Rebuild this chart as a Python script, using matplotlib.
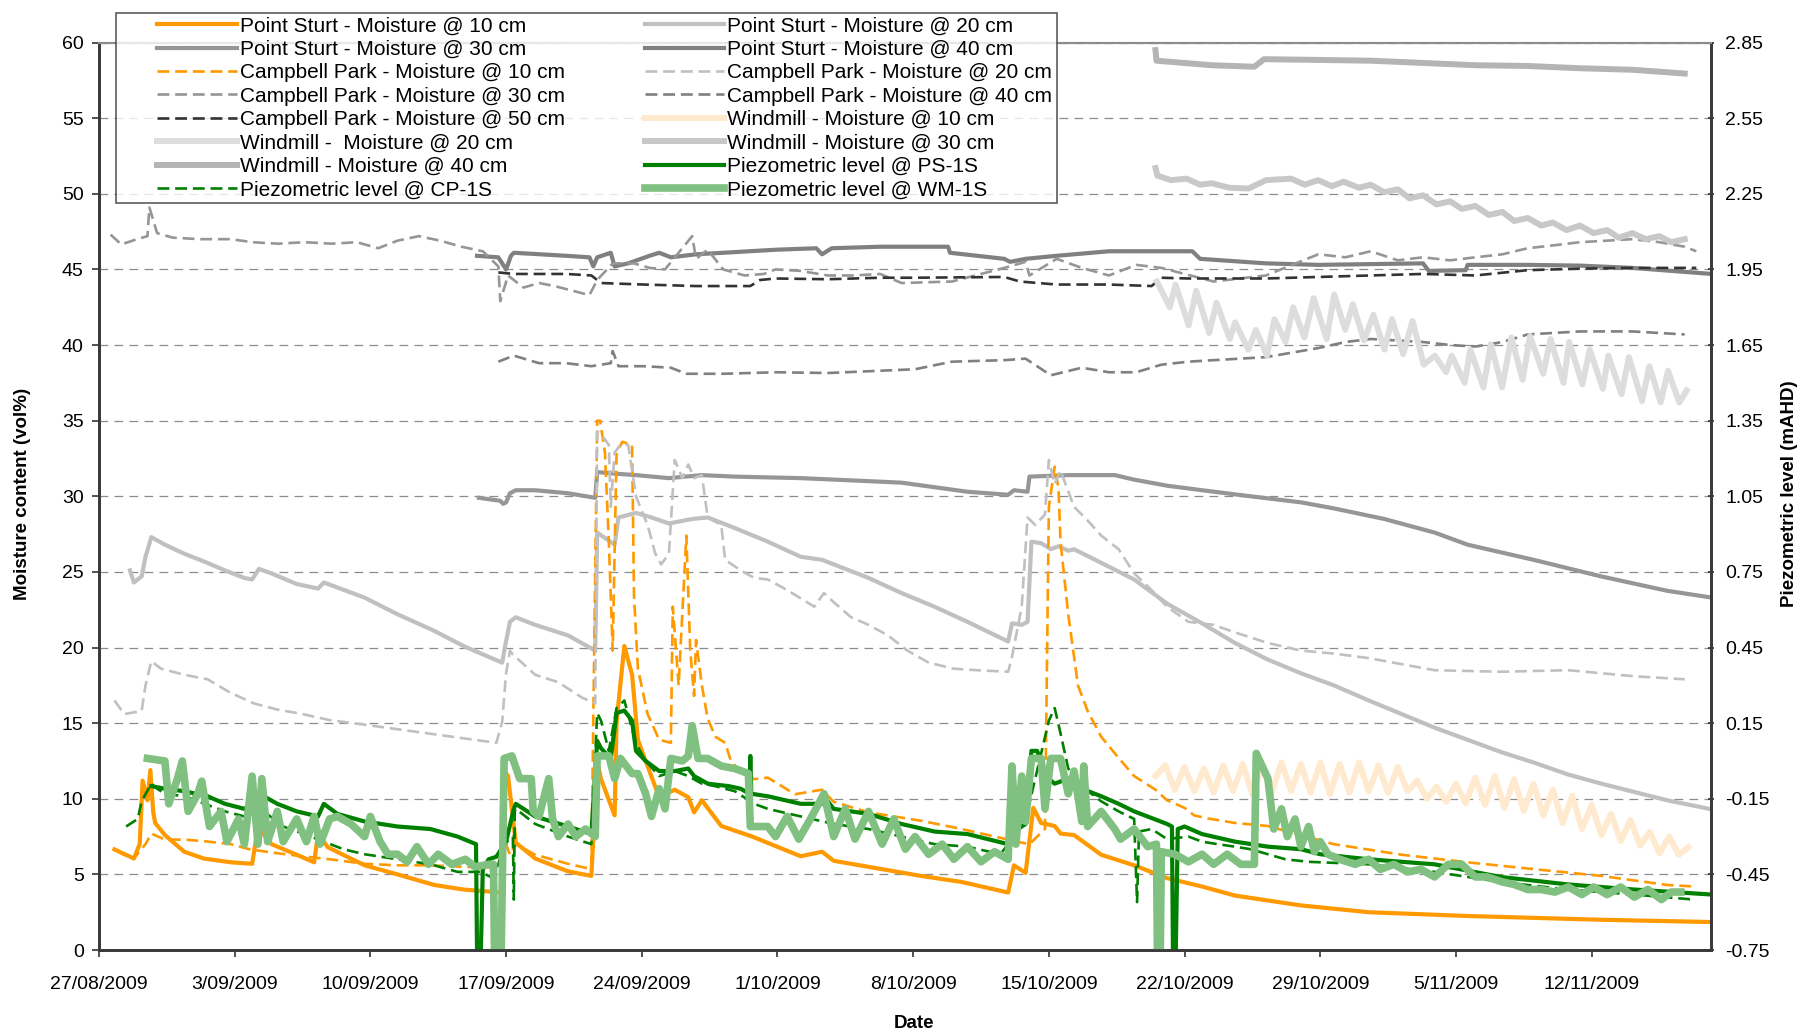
import numpy as np
import matplotlib
matplotlib.use("Agg")
import matplotlib.pyplot as plt
from matplotlib.lines import Line2D
from matplotlib.legend_handler import HandlerLine2D

plt.rcParams['font.family'] = ['Liberation Sans', 'DejaVu Sans']

# x values are days after 27/08/2009; moisture in vol%, piezometric level in mAHD
tick_days = [0, 7, 14, 21, 28, 35, 42, 49, 56, 63, 70, 77]
tick_labels = ['27/08/2009', '3/09/2009', '10/09/2009', '17/09/2009', '24/09/2009',
               '1/10/2009', '8/10/2009', '15/10/2009', '22/10/2009', '29/10/2009',
               '5/11/2009', '12/11/2009']

ps10 = [(0.8, 6.65), (1.8, 6.05), (2.1, 7.0), (2.25, 11.2), (2.5, 9.9), (2.65, 11.9), (2.8, 9.1),
        (2.9, 8.4), (3.4, 7.6), (4.4, 6.5), (5.4, 6.05), (6.8, 5.8), (7.9, 5.7), (8.2, 8.1),
        (8.9, 7.0), (10.2, 6.3), (11.1, 5.8), (11.3, 7.7), (11.8, 6.8), (13.7, 5.6), (15.4, 5.0),
        (17.3, 4.3), (18.8, 4.0), (20.8, 3.8), (20.95, 11.8), (21.1, 11.5), (21.5, 7.1),
        (22.5, 6.05), (24.2, 5.2), (25.4, 4.9), (25.7, 12.5), (25.9, 11.3), (26.6, 8.9),
        (26.7, 15.1), (27.1, 20.1), (27.5, 18.2), (27.8, 13.9), (28.2, 12.5), (28.9, 10.1),
        (29.7, 10.6), (30.4, 10.1), (30.7, 9.1), (31.1, 9.9), (32.1, 8.2), (33.7, 7.5),
        (36.2, 6.2), (37.3, 6.5), (37.9, 5.9), (39.7, 5.5), (42.4, 4.9), (44.5, 4.5),
        (46.9, 3.8), (47.2, 5.6), (47.8, 5.1), (48.2, 9.4), (48.6, 8.4), (49.3, 8.2),
        (49.6, 7.7), (50.3, 7.6), (51.7, 6.3), (53.4, 5.6), (55.1, 4.75), (56.9, 4.2),
        (58.6, 3.6), (62.0, 2.95), (65.5, 2.5), (70.6, 2.25), (77.5, 2.0), (83.2, 1.85)]

ps20 = [(1.6, 25.1), (1.8, 24.3), (2.2, 24.7), (2.4, 26.0), (2.7, 27.3), (3.4, 26.8), (4.4, 26.2),
        (5.4, 25.7), (6.5, 25.1), (7.5, 24.6), (7.9, 24.5), (8.25, 25.2), (8.9, 24.9),
        (10.2, 24.2), (11.3, 23.9), (11.6, 24.3), (13.7, 23.3), (15.4, 22.2), (17.3, 21.1),
        (18.8, 20.1), (20.8, 19.0), (20.95, 20.1), (21.2, 21.7), (21.5, 22.0), (22.5, 21.5),
        (24.2, 20.8), (25.6, 19.8), (25.7, 27.6), (26.6, 26.8), (26.8, 28.6), (27.7, 28.9),
        (28.5, 28.6), (29.4, 28.2), (30.6, 28.5), (31.4, 28.6), (32.8, 27.9), (34.5, 27.0),
        (36.2, 26.0), (37.3, 25.8), (39.7, 24.6), (41.4, 23.6), (43.1, 22.7), (44.8, 21.7),
        (46.9, 20.4), (47.1, 21.6), (47.6, 21.5), (47.9, 21.7), (48.1, 27.0), (48.6, 26.9),
        (49.1, 26.5), (49.5, 26.7), (50.0, 26.4), (50.3, 26.5), (51.7, 25.6), (53.4, 24.5),
        (55.1, 22.9), (56.9, 21.6), (58.6, 20.3), (60.3, 19.2), (62.0, 18.3), (63.7, 17.5),
        (65.5, 16.5), (67.2, 15.6), (68.9, 14.7), (70.6, 13.9), (72.3, 13.1), (74.0, 12.4),
        (75.8, 11.6), (77.5, 11.0), (79.2, 10.45), (80.9, 9.9), (83.2, 9.3)]

ps30 = [(19.6, 29.9), (20.7, 29.7), (20.85, 29.5), (21.0, 29.6), (21.2, 30.2), (21.5, 30.4),
        (22.5, 30.4), (24.2, 30.2), (25.6, 29.9), (25.7, 31.6), (26.6, 31.5), (27.7, 31.4),
        (29.4, 31.2), (31.1, 31.4), (32.8, 31.3), (36.2, 31.2), (39.7, 31.0), (41.4, 30.9),
        (44.8, 30.3), (46.9, 30.1), (47.2, 30.4), (47.9, 30.3), (48.0, 31.3), (50.0, 31.4),
        (52.4, 31.4), (53.4, 31.1), (55.1, 30.7), (56.9, 30.4), (59.4, 30.0), (62.0, 29.6),
        (63.7, 29.2), (66.3, 28.5), (68.9, 27.6), (70.6, 26.8), (74.0, 25.8), (77.5, 24.7),
        (80.9, 23.75), (83.2, 23.3)]

ps40 = [(19.5, 45.9), (20.6, 45.8), (21.0, 45.0), (21.25, 45.9), (21.4, 46.1), (24.1, 45.9),
        (25.3, 45.8), (25.5, 45.2), (25.7, 45.8), (26.4, 46.1), (26.6, 45.2), (27.3, 45.4),
        (28.4, 45.9), (28.9, 46.1), (29.5, 45.8), (30.8, 46.0), (32.2, 46.1), (34.9, 46.3),
        (37.0, 46.4), (37.3, 46.0), (37.8, 46.4), (40.3, 46.5), (43.8, 46.5), (43.9, 46.1),
        (46.7, 45.7), (47.0, 45.5), (47.8, 45.7), (49.4, 45.9), (52.1, 46.2), (56.4, 46.2),
        (56.8, 45.7), (60.2, 45.4), (62.9, 45.3), (68.3, 45.4), (68.6, 44.9), (70.5, 44.95),
        (70.6, 45.3), (73.7, 45.3), (76.4, 45.25), (79.1, 45.1), (83.2, 44.7)]

cp10 = [(0.8, 6.65), (1.3, 6.3), (1.8, 6.05), (2.4, 7.0), (2.7, 7.7), (3.4, 7.3), (4.4, 7.3),
        (5.4, 7.2), (6.8, 7.0), (7.8, 6.65), (9.2, 6.4), (10.5, 6.2), (11.9, 6.0), (13.7, 5.7),
        (15.4, 5.6), (17.1, 5.6), (18.8, 5.5), (20.5, 5.45), (21.0, 7.0), (21.2, 6.3),
        (21.5, 7.0), (22.5, 6.3), (24.2, 5.7), (25.4, 5.35), (25.7, 35.0), (25.85, 35.0),
        (26.1, 32.9), (26.3, 27.0), (26.5, 19.8), (26.7, 32.9), (27.0, 33.6), (27.5, 33.4),
        (27.6, 23.4), (27.8, 18.6), (28.3, 15.6), (28.9, 13.9), (29.5, 13.7), (29.6, 22.7),
        (29.9, 17.5), (30.3, 27.4), (30.5, 19.8), (30.7, 16.8), (30.8, 20.5), (31.1, 17.5),
        (31.4, 15.3), (31.8, 14.1), (32.3, 13.7), (32.6, 12.5), (33.1, 11.8), (33.8, 11.3),
        (34.5, 11.4), (35.9, 10.3), (37.3, 10.6), (37.9, 9.8), (39.7, 9.1), (42.4, 8.55),
        (44.5, 8.0), (46.9, 7.3), (47.2, 7.2), (48.0, 7.0), (48.8, 8.0), (49.0, 29.3),
        (49.3, 31.95), (49.5, 30.5), (49.6, 27.0), (50.0, 22.2), (50.5, 17.5), (51.0, 15.8),
        (51.7, 14.1), (52.6, 12.7), (53.4, 11.5), (54.5, 10.6), (55.1, 9.9), (56.0, 9.4),
        (56.5, 8.9), (57.2, 8.7), (57.9, 8.55), (58.6, 8.4), (60.3, 8.2), (62.0, 7.6),
        (63.7, 7.0), (67.2, 6.3), (70.6, 5.8), (74.0, 5.35), (77.5, 4.9), (80.9, 4.3),
        (82.3, 4.2)]

cp20 = [(0.8, 16.5), (1.3, 15.6), (2.2, 15.8), (2.4, 17.5), (2.7, 19.1), (3.2, 18.6), (4.4, 18.2),
        (5.6, 17.9), (6.8, 17.0), (8.0, 16.3), (9.2, 15.9), (10.5, 15.6), (11.9, 15.2),
        (13.7, 14.9), (15.4, 14.6), (17.1, 14.3), (18.8, 14.0), (20.5, 13.7), (20.8, 15.1),
        (21.0, 18.3), (21.2, 19.8), (21.3, 19.6), (22.5, 18.2), (23.7, 17.7), (24.9, 16.7),
        (25.6, 16.3), (25.7, 34.3), (25.9, 34.1), (26.3, 33.4), (26.4, 29.3), (26.6, 32.9),
        (26.9, 33.4), (27.3, 33.4), (27.7, 30.0), (28.3, 28.1), (28.7, 26.2), (29.0, 25.5),
        (29.4, 26.2), (29.7, 32.4), (30.1, 31.2), (30.4, 32.1), (30.7, 31.2), (31.1, 31.4),
        (31.4, 28.6), (32.1, 28.1), (32.3, 25.8), (33.1, 25.1), (33.8, 24.6), (34.5, 24.5),
        (35.5, 23.8), (36.9, 22.7), (37.4, 23.6), (37.9, 23.0), (38.8, 22.0), (39.7, 21.5),
        (40.7, 20.8), (41.7, 19.8), (42.8, 19.0), (44.1, 18.6), (45.3, 18.5), (46.9, 18.4),
        (47.1, 19.4), (47.6, 22.7), (47.9, 28.6), (48.3, 28.1), (48.8, 28.8), (49.0, 32.4),
        (49.3, 30.8), (49.6, 31.7), (50.3, 29.3), (51.0, 28.4), (51.7, 27.4), (52.6, 26.5),
        (53.4, 24.9), (54.3, 23.8), (55.1, 22.7), (56.2, 21.7), (57.5, 21.5), (58.6, 21.0),
        (60.3, 20.3), (62.0, 19.8), (63.7, 19.6), (65.5, 19.3), (68.9, 18.5), (72.3, 18.4),
        (75.8, 18.5), (79.2, 18.1), (81.8, 17.9)]

cp30 = [(0.6, 47.3), (1.15, 46.65), (1.96, 47.0), (2.5, 47.2), (2.6, 49.1), (3.0, 47.4),
        (3.8, 47.1), (5.2, 47.0), (6.8, 47.0), (7.9, 46.8), (9.25, 46.7), (10.6, 46.8),
        (12.0, 46.7), (13.3, 46.8), (14.4, 46.4), (15.4, 46.9), (16.5, 47.2), (17.6, 46.9),
        (18.7, 46.5), (19.8, 46.2), (20.6, 45.2), (20.7, 42.9), (21.1, 44.6), (21.9, 43.8),
        (22.7, 44.1), (23.5, 43.9), (24.1, 43.7), (25.3, 43.3), (25.7, 44.3), (26.5, 45.4),
        (27.6, 45.4), (28.4, 45.1), (29.2, 45.0), (30.6, 47.2), (30.8, 45.7), (31.4, 46.3),
        (32.2, 45.0), (33.3, 44.6), (34.3, 44.7), (34.9, 45.0), (36.2, 44.9), (37.6, 44.6),
        (38.9, 44.6), (40.3, 44.7), (41.4, 44.1), (44.0, 44.2), (46.7, 45.1), (47.8, 45.5),
        (48.0, 44.6), (49.4, 45.7), (50.7, 45.1), (52.1, 44.6), (53.5, 45.3), (54.8, 45.1),
        (57.5, 44.2), (60.2, 44.6), (62.9, 46.0), (64.3, 45.8), (65.6, 46.2), (67.0, 45.6),
        (68.3, 45.8), (69.7, 45.6), (71.0, 45.8), (72.4, 46.0), (73.7, 46.4), (75.1, 46.6),
        (76.4, 46.8), (77.8, 46.9), (79.1, 47.0), (80.5, 46.8), (81.8, 46.5), (82.4, 46.2)]

cp40 = [(20.6, 38.9), (21.4, 39.3), (22.7, 38.8), (24.1, 38.8), (25.4, 38.6), (26.4, 38.8),
        (26.5, 39.6), (26.8, 38.6), (28.1, 38.6), (29.5, 38.5), (30.3, 38.1), (32.2, 38.1),
        (34.9, 38.2), (37.6, 38.15), (40.3, 38.3), (42.1, 38.4), (44.0, 38.9), (46.7, 39.0),
        (47.8, 39.1), (49.1, 38.0), (50.7, 38.5), (52.1, 38.2), (53.5, 38.2), (54.8, 38.7),
        (56.2, 38.9), (57.5, 39.0), (60.2, 39.2), (62.9, 39.8), (64.3, 40.2), (65.6, 40.4),
        (68.3, 40.2), (69.7, 40.0), (71.0, 39.9), (72.4, 40.2), (73.7, 40.7), (76.4, 40.9),
        (79.1, 40.9), (81.8, 40.7)]

cp50 = [(20.6, 44.8), (21.4, 44.7), (24.1, 44.7), (25.4, 44.6), (25.9, 44.1), (28.1, 44.0),
        (30.8, 43.9), (33.6, 43.9), (34.1, 44.3), (34.9, 44.4), (37.6, 44.35), (40.3, 44.45),
        (42.1, 44.45), (46.7, 44.5), (47.5, 44.2), (49.4, 44.0), (52.1, 44.0), (54.3, 43.9),
        (54.8, 44.45), (56.2, 44.4), (60.2, 44.4), (65.6, 44.6), (68.3, 44.7), (71.0, 44.6),
        (73.7, 44.95), (76.4, 45.05), (79.1, 45.1), (82.4, 45.1)]

wm10 = [(54.5, 11.5), (55.0, 12.2), (55.5, 10.6), (56.0, 12.1), (56.5, 10.5), (57.0, 12.0),
        (57.5, 10.4), (58.0, 12.2), (58.5, 10.5), (59.0, 12.3), (59.5, 10.3), (60.0, 12.2),
        (60.5, 10.4), (61.0, 12.4), (61.5, 10.5), (62.0, 12.3), (62.5, 10.4), (63.0, 12.4),
        (63.5, 10.3), (64.0, 12.3), (64.5, 10.4), (65.0, 12.4), (65.5, 10.5), (66.0, 12.2),
        (66.5, 10.4), (67.0, 12.1), (67.5, 10.5), (68.0, 11.2), (68.5, 10.0), (69.0, 10.8),
        (69.5, 9.8), (70.0, 11.0), (70.5, 9.7), (71.0, 11.4), (71.5, 9.6), (72.0, 11.5),
        (72.5, 9.4), (73.0, 11.3), (73.5, 9.2), (74.0, 11.0), (74.5, 8.9), (75.0, 10.6),
        (75.5, 8.4), (76.0, 10.2), (76.5, 8.0), (77.0, 9.6), (77.5, 7.6), (78.0, 9.0),
        (78.5, 7.2), (79.0, 8.6), (79.5, 6.9), (80.0, 7.8), (80.5, 6.4), (81.0, 7.5),
        (81.5, 6.3), (82.0, 6.8)]

wm20 = [(54.57, 44.2), (55.24, 42.5), (55.53, 44.0), (56.21, 41.3), (56.60, 43.6), (57.27, 40.8),
        (57.65, 42.8), (58.33, 40.4), (58.61, 41.5), (59.29, 39.7), (59.68, 41.0), (60.25, 39.3),
        (60.64, 41.7), (61.21, 40.2), (61.60, 42.5), (62.18, 40.5), (62.66, 43.1), (63.33, 40.4),
        (63.72, 43.35), (64.29, 41.0), (64.68, 42.7), (65.26, 40.3), (65.74, 42.0), (66.31, 39.7),
        (66.70, 41.7), (67.28, 39.4), (67.76, 41.6), (68.34, 38.7), (68.91, 39.3), (69.49, 38.2),
        (69.78, 39.3), (70.45, 37.5), (70.74, 39.7), (71.42, 37.2), (71.80, 40.05), (72.38, 37.2),
        (72.86, 40.5), (73.44, 37.7), (73.82, 40.6), (74.50, 38.1), (74.88, 40.4), (75.55, 37.5),
        (75.84, 40.2), (76.52, 37.4), (76.90, 39.7), (77.58, 37.1), (77.86, 39.3), (78.54, 36.75),
        (78.92, 39.2), (79.60, 36.3), (79.98, 38.6), (80.56, 36.2), (80.94, 38.3), (81.52, 36.2),
        (81.90, 37.0)]

wm30 = [(54.5, 51.7), (54.6, 51.2), (55.3, 50.9), (56.1, 51.0), (56.8, 50.6), (57.4, 50.7),
        (58.3, 50.4), (59.3, 50.35), (60.2, 50.9), (61.5, 51.0), (62.2, 50.6), (62.9, 50.9),
        (63.6, 50.5), (64.2, 50.8), (65.0, 50.4), (65.6, 50.6), (66.3, 50.1), (67.0, 50.3),
        (67.6, 49.7), (68.3, 49.9), (69.0, 49.3), (69.7, 49.5), (70.3, 49.0), (71.0, 49.2),
        (71.7, 48.6), (72.4, 48.8), (73.0, 48.2), (73.7, 48.4), (74.4, 47.9), (75.0, 48.1),
        (75.7, 47.6), (76.4, 47.9), (77.1, 47.4), (77.8, 47.6), (78.4, 47.1), (79.1, 47.4),
        (79.8, 47.0), (80.5, 47.2), (81.1, 46.8), (81.8, 47.0)]

wm40 = [(54.5, 59.5), (54.55, 58.8), (57.4, 58.5), (59.6, 58.4), (60.1, 58.9), (62.9, 58.85),
        (65.6, 58.8), (68.3, 58.65), (71.0, 58.5), (73.7, 58.45), (76.4, 58.3), (79.1, 58.2),
        (81.8, 57.95)]

ps_1s = [(2.7, -0.10), (3.4, -0.11), (4.4, -0.12), (5.6, -0.14), (6.5, -0.17), (7.5, -0.19),
         (8.5, -0.14), (9.2, -0.17), (10.2, -0.20), (11.3, -0.22), (11.6, -0.17), (12.3, -0.21),
         (13.7, -0.24), (15.4, -0.26), (17.1, -0.27), (18.5, -0.30), (19.45, -0.33), (19.5, -0.75),
         (19.7, -0.75), (19.8, -0.43), (20.1, -0.39), (20.5, -0.38), (21.0, -0.32), (21.4, -0.19),
         (21.5, -0.17), (22.5, -0.22), (24.2, -0.26), (25.4, -0.29), (25.7, 0.08), (25.9, 0.05),
         (26.4, 0.01), (26.7, 0.19), (27.1, 0.20), (27.5, 0.16), (27.7, 0.04), (28.2, 0.00),
         (28.9, -0.04), (29.7, -0.04), (30.4, -0.03), (30.7, -0.06), (31.4, -0.09), (32.5, -0.10),
         (33.1, -0.11), (33.55, -0.13), (33.6, 0.02), (33.65, -0.13), (34.5, -0.14), (36.2, -0.17),
         (37.3, -0.17), (37.6, -0.16), (37.9, -0.19), (39.7, -0.21), (41.4, -0.25), (43.1, -0.28),
         (44.8, -0.29), (46.9, -0.33), (47.2, -0.28), (47.8, -0.25), (48.1, 0.04), (48.4, 0.04),
         (48.8, -0.06), (49.3, -0.09), (50.0, -0.07), (50.7, -0.11), (51.7, -0.14), (52.6, -0.17),
         (53.4, -0.20), (55.1, -0.25), (55.35, -0.26), (55.4, -0.75), (55.55, -0.75), (55.65, -0.27),
         (56.0, -0.26), (56.9, -0.29), (58.6, -0.32), (60.3, -0.34), (62.0, -0.35), (63.0, -0.37),
         (65.5, -0.39), (68.9, -0.41), (72.3, -0.46), (75.8, -0.49), (79.2, -0.51), (83.2, -0.53)]

cp_1s = [(1.4, -0.26), (1.6, -0.25), (2.0, -0.23), (2.2, -0.16), (2.7, -0.09), (3.0, -0.11),
         (3.4, -0.13), (4.4, -0.14), (5.1, -0.16), (6.5, -0.20), (7.5, -0.22), (8.0, -0.20),
         (8.5, -0.20), (9.5, -0.26), (10.6, -0.29), (11.6, -0.32), (12.6, -0.35), (13.7, -0.37),
         (15.4, -0.39), (17.1, -0.41), (18.5, -0.44), (19.4, -0.44), (19.7, -0.44), (20.2, -0.46),
         (20.6, -0.41), (20.9, -0.33), (21.35, -0.30), (21.4, -0.55), (21.45, -0.20), (21.5, -0.19),
         (22.5, -0.25), (24.2, -0.30), (25.4, -0.33), (25.7, 0.19), (25.9, 0.16), (26.3, 0.04),
         (26.7, 0.21), (27.1, 0.24), (27.7, 0.07), (28.2, 0.00), (28.9, -0.06), (29.7, -0.04),
         (30.4, -0.06), (31.1, -0.09), (31.8, -0.10), (32.8, -0.12), (33.8, -0.17), (34.5, -0.19),
         (36.2, -0.22), (37.9, -0.25), (39.7, -0.27), (41.4, -0.30), (43.1, -0.33), (44.8, -0.34),
         (46.5, -0.37), (47.1, -0.31), (47.3, -0.27), (47.9, -0.20), (49.0, 0.16), (49.3, 0.21),
         (49.6, 0.11), (50.0, -0.03), (50.7, -0.10), (51.7, -0.16), (52.6, -0.20), (53.4, -0.23),
         (53.55, -0.56), (53.65, -0.28), (54.3, -0.27), (55.1, -0.31), (56.2, -0.30), (56.9, -0.32),
         (57.7, -0.33), (58.6, -0.34), (59.4, -0.35), (60.3, -0.37), (61.2, -0.39), (62.4, -0.40),
         (65.5, -0.41), (68.9, -0.44), (72.3, -0.48), (75.8, -0.51), (79.2, -0.53), (82.3, -0.55)]

wm_1s = [(2.5, 0.01), (3.4, 0.00), (3.6, -0.17), (4.05, -0.07), (4.3, 0.00), (4.6, -0.20),
         (5.1, -0.13), (5.3, -0.08), (5.7, -0.26), (6.3, -0.20), (6.6, -0.32), (7.2, -0.23),
         (7.5, -0.33), (7.9, -0.06), (8.2, -0.33), (8.4, -0.07), (8.7, -0.32), (9.2, -0.20),
         (9.5, -0.32), (10.2, -0.23), (10.7, -0.32), (11.1, -0.22), (11.4, -0.33), (11.9, -0.23),
         (12.3, -0.22), (13.0, -0.25), (13.7, -0.30), (14.0, -0.22), (14.5, -0.32), (14.9, -0.37),
         (15.4, -0.37), (15.9, -0.40), (16.4, -0.34), (17.0, -0.41), (17.5, -0.37), (18.2, -0.41),
         (18.9, -0.39), (19.4, -0.42), (20.1, -0.41), (20.35, -0.41), (20.4, -0.75), (20.75, -0.75),
         (20.9, 0.01), (21.3, 0.02), (21.7, -0.07), (22.3, -0.07), (22.4, -0.20), (22.7, -0.22),
         (23.2, -0.07), (23.4, -0.23), (23.7, -0.30), (24.2, -0.25), (24.6, -0.30), (25.1, -0.27),
         (25.6, -0.30), (25.7, 0.02), (26.3, 0.02), (26.6, -0.07), (26.9, 0.01), (27.5, -0.05),
         (27.8, -0.05), (28.2, -0.13), (28.5, -0.22), (28.9, -0.11), (29.2, -0.19), (29.5, 0.01),
         (30.1, 0.00), (30.4, 0.02), (30.6, 0.14), (30.9, 0.01), (31.4, 0.01), (32.1, -0.02),
         (32.8, -0.03), (33.5, -0.05), (33.6, -0.26), (34.5, -0.26), (34.9, -0.30), (35.5, -0.22),
         (36.1, -0.31), (36.7, -0.23), (37.4, -0.13), (37.9, -0.30), (38.5, -0.19), (39.0, -0.31),
         (39.7, -0.20), (40.4, -0.33), (41.0, -0.23), (41.6, -0.35), (42.1, -0.30), (42.8, -0.37),
         (43.5, -0.33), (44.1, -0.39), (44.8, -0.34), (45.5, -0.40), (46.2, -0.36), (46.9, -0.39),
         (47.1, -0.02), (47.3, -0.33), (47.6, -0.06), (47.8, -0.24), (48.1, 0.01), (48.6, 0.01),
         (48.8, -0.19), (49.1, 0.01), (49.6, 0.01), (50.0, -0.13), (50.3, -0.04), (50.7, -0.24),
         (50.8, -0.02), (51.0, -0.26), (51.7, -0.20), (52.4, -0.27), (52.7, -0.31), (53.4, -0.27),
         (54.1, -0.34), (54.55, -0.33), (54.6, -0.75), (54.75, -0.75), (54.8, -0.36), (55.5, -0.37),
         (56.2, -0.40), (56.9, -0.37), (57.5, -0.41), (58.2, -0.37), (58.9, -0.41), (59.6, -0.41),
         (59.7, 0.03), (60.0, -0.02), (60.3, -0.07), (60.6, -0.27), (61.0, -0.19), (61.3, -0.30),
         (61.7, -0.23), (62.0, -0.34), (62.4, -0.26), (62.7, -0.36), (63.0, -0.32), (63.4, -0.37),
         (64.0, -0.39), (64.8, -0.41), (65.5, -0.39), (66.1, -0.43), (66.8, -0.41), (67.5, -0.44),
         (68.2, -0.43), (68.9, -0.46), (69.6, -0.41), (70.3, -0.41), (71.0, -0.46), (71.6, -0.46),
         (72.4, -0.48), (73.0, -0.49), (73.7, -0.51), (74.4, -0.51), (75.1, -0.52), (75.8, -0.50),
         (76.5, -0.53), (77.1, -0.50), (77.8, -0.53), (78.5, -0.50), (79.2, -0.54), (79.9, -0.51),
         (80.6, -0.55), (81.1, -0.52), (81.6, -0.52)]

DASH = (0, (4.5, 2.2))

moisture_series = [
    ('Point Sturt - Moisture @ 10 cm', ps10, '#ff9900', '-', 3.0),
    ('Point Sturt - Moisture @ 20 cm', ps20, '#c0c0c0', '-', 3.0),
    ('Point Sturt - Moisture @ 30 cm', ps30, '#969696', '-', 3.0),
    ('Point Sturt - Moisture @ 40 cm', ps40, '#808080', '-', 3.0),
    ('Campbell Park - Moisture @ 10 cm', cp10, '#ff9900', DASH, 1.9),
    ('Campbell Park - Moisture @ 20 cm', cp20, '#c0c0c0', DASH, 1.9),
    ('Campbell Park - Moisture @ 30 cm', cp30, '#969696', DASH, 1.9),
    ('Campbell Park - Moisture @ 40 cm', cp40, '#808080', DASH, 1.9),
    ('Campbell Park - Moisture @ 50 cm', cp50, '#333333', DASH, 1.9),
    ('Windmill - Moisture @ 10 cm', wm10, '#ffe9cf', '-', 4.3),
    ('Windmill -  Moisture @ 20 cm', wm20, '#dddddd', '-', 4.3),
    ('Windmill - Moisture @ 30 cm', wm30, '#c8c8c8', '-', 4.3),
    ('Windmill - Moisture @ 40 cm', wm40, '#b4b4b4', '-', 4.3),
]
piezo_series = [
    ('Piezometric level @ PS-1S', ps_1s, '#008000', '-', 3.0),
    ('Piezometric level @ CP-1S', cp_1s, '#008000', DASH, 1.9),
    ('Piezometric level @ WM-1S', wm_1s, '#80c080', '-', 5.5),
]

fig = plt.figure(figsize=(18.03, 10.35), dpi=100)
ax = fig.add_axes([0.0549, 0.0821, 0.894, 0.8768])
ax2 = ax.twinx()

lines = []
for label, pts, color, ls, lw in moisture_series:
    d, v = np.array(pts).T
    ln, = ax.plot(d, v, color=color, linestyle=ls, linewidth=lw, label=label)
    lines.append(ln)
for label, pts, color, ls, lw in piezo_series:
    d, v = np.array(pts).T
    ln, = ax2.plot(d, v, color=color, linestyle=ls, linewidth=lw, label=label)
    lines.append(ln)

ax.set_xlim(0, 83.15)
ax.set_ylim(0, 60)
ax2.set_ylim(-0.75, 2.85)
ax.set_yticks(np.arange(0, 61, 5))
ax2.set_yticks(np.arange(-0.75, 2.86, 0.3))
ax2.set_yticklabels([f'{t:.2f}' for t in np.arange(-0.75, 2.86, 0.3)])
ax.set_xticks(tick_days)
ax.set_xticklabels(tick_labels)

ax.yaxis.grid(True, linestyle=(0, (7, 5)), color='#8c8c8c', linewidth=0.9)
ax.set_axisbelow(True)

ax.tick_params(axis='both', labelsize=14, length=5, width=1.2, color='#333333')
ax.tick_params(axis='x', pad=14)
ax.tick_params(axis='y', pad=6)
ax2.tick_params(axis='y', labelsize=14, length=5, width=1.2, color='#333333',
                direction='inout', pad=8)

for a in (ax, ax2):
    for side in ('left', 'right', 'bottom'):
        a.spines[side].set_color('#3a3a3a')
        a.spines[side].set_linewidth(2)
    a.spines['top'].set_color('#8c8c8c')
    a.spines['top'].set_linewidth(1.5)

fig.text(23 / 1803, 1 - 494 / 1035, 'Moisture content (vol%)', rotation=90,
         ha='center', va='center', fontsize=13.5, fontweight='bold')
fig.text(1789 / 1803, 1 - 494 / 1035, 'Piezometric level (mAHD)', rotation=90,
         ha='center', va='center', fontsize=13.5, fontweight='bold')
fig.text(914 / 1803, 1 - 1024 / 1035, 'Date', ha='center', va='center',
         fontsize=13.5, fontweight='bold')

# Excel fills the legend row by row; matplotlib column by column
order = list(range(0, 16, 2)) + list(range(1, 16, 2))
leg = fig.legend([lines[i] for i in order], [lines[i].get_label() for i in order],
                 loc='upper left', bbox_to_anchor=(116 / 1803, 1 - 12.5 / 1035),
                 ncol=2, fontsize=15, frameon=True, fancybox=False,
                 edgecolor='#333333', handlelength=5.6, handletextpad=0.15,
                 labelspacing=0.21, columnspacing=2.05, borderpad=0.2,
                 borderaxespad=0, handler_map={Line2D: HandlerLine2D(xpad=1.77)})
leg.get_frame().set_linewidth(1.2)

fig.savefig('out.png', dpi=100)
